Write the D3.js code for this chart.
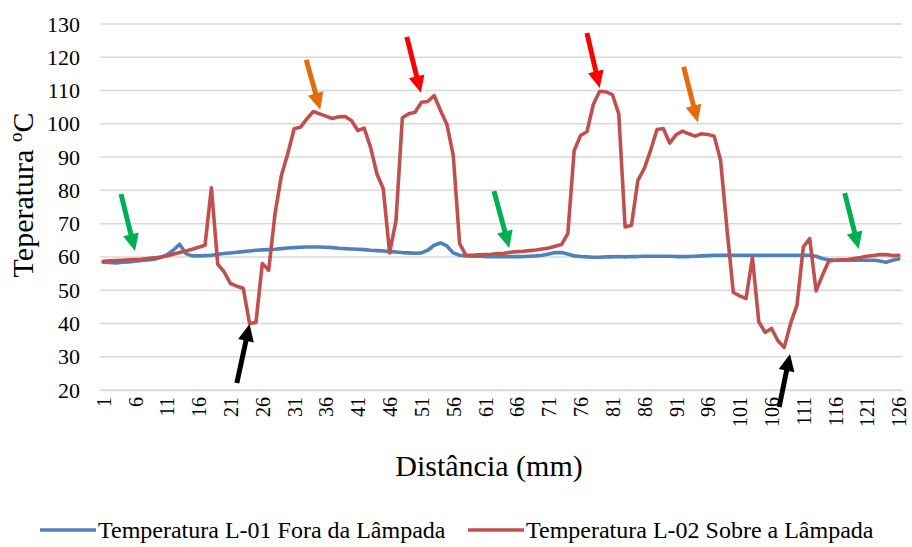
<!DOCTYPE html>
<html>
<head>
<meta charset="utf-8">
<script src="https://cdn.jsdelivr.net/npm/d3@7"></script>
<style>
  html, body { margin: 0; padding: 0; background: #fff; }
  svg { display: block; font-family: "Liberation Serif", "Times New Roman", serif; }
</style>
</head>
<body>
<svg id="chart" width="912" height="547"></svg>
<script>
// Distance along the lamp, in mm (1 … 126)
const distances = d3.range(1, 127);

// Temperature L-01, sensor outside the lamp (°C)
const tempFora = [
  58.4, 58.3, 58.2, 58.4, 58.5, 58.7, 58.9, 59.1, 59.3, 59.8,
  60.6, 62.0, 63.8, 61.0, 60.3, 60.3, 60.4, 60.5, 60.8, 61.0,
  61.2, 61.4, 61.6, 61.8, 62.0, 62.1, 62.2, 62.3, 62.5, 62.7,
  62.8, 62.9, 63.0, 63.0, 63.0, 62.9, 62.8, 62.6, 62.5, 62.4,
  62.3, 62.2, 62.0, 61.9, 61.8, 61.6, 61.5, 61.3, 61.2, 61.1,
  61.2, 62.0, 63.5, 64.2, 63.3, 61.2, 60.5, 60.3, 60.2, 60.2,
  60.1, 60.1, 60.1, 60.1, 60.1, 60.1, 60.1, 60.2, 60.3, 60.5,
  60.9, 61.3, 61.3, 60.9, 60.3, 60.1, 60.0, 59.9, 59.9, 60.0,
  60.0, 60.1, 60.0, 60.1, 60.1, 60.2, 60.2, 60.2, 60.2, 60.2,
  60.1, 60.1, 60.1, 60.2, 60.3, 60.4, 60.5, 60.5, 60.5, 60.5,
  60.5, 60.5, 60.5, 60.5, 60.5, 60.5, 60.5, 60.5, 60.5, 60.5,
  60.5, 60.5, 60.2, 59.5, 59.1, 59.0, 59.0, 59.0, 59.0, 59.0,
  59.0, 59.0, 58.8, 58.4, 59.0, 59.4
];

// Temperature L-02, sensor on the lamp (°C)
const tempSobre = [
  58.7, 58.8, 58.9, 59.0, 59.1, 59.2, 59.3, 59.5, 59.7, 60.0,
  60.3, 60.8, 61.3, 61.8, 62.3, 62.9, 63.5, 80.8, 57.8, 55.5,
  52.0, 51.2, 50.6, 40.0, 40.3, 58.0, 56.0, 73.0, 84.5, 91.0,
  98.5, 99.0, 101.5, 103.7, 103.0, 102.3, 101.6, 102.1, 102.2, 101.0,
  98.0, 98.7, 93.0, 85.0, 80.5, 61.2, 70.8, 101.8, 103.0, 103.5,
  106.5, 106.7, 108.5, 104.0, 99.8, 90.5, 64.0, 60.5, 60.5, 60.6,
  60.7, 60.8, 61.0, 61.1, 61.4, 61.6, 61.7, 61.9, 62.1, 62.4,
  62.7, 63.2, 63.7, 67.0, 92.0, 96.5, 97.6, 105.8, 109.8, 109.6,
  108.8, 103.0, 69.0, 69.5, 83.0, 86.5, 92.0, 98.3, 98.6, 94.2,
  96.7, 97.8, 97.0, 96.3, 97.0, 96.8, 96.3, 89.0, 68.5, 49.3,
  48.3, 47.5, 59.8, 40.5, 37.3, 38.5, 34.8, 32.8, 40.0, 45.5,
  63.0, 65.5, 49.8, 54.5, 58.8, 59.0, 59.1, 59.2, 59.5, 59.8,
  60.2, 60.4, 60.7, 60.7, 60.4, 60.5
];

const yTicks = [20, 30, 40, 50, 60, 70, 80, 90, 100, 110, 120, 130];
const xTickLabels = distances.filter(d => (d - 1) % 5 === 0);

const seriesNames = [
  "Temperatura L-01 Fora da Lâmpada",
  "Temperatura L-02 Sobre a Lâmpada"
];
const seriesColors = ["#4F81BD", "#C0504D"];

// Annotation arrows: tail (distance, temperature) -> tip (distance, temperature)
const arrowColors = ["#00B050", "#000000", "#E46C0A", "#FF0000", "#00B050", "#FF0000", "#E46C0A", "#000000", "#00B050"];
const arrowTailX = [3.8, 22.0, 32.9, 48.7, 62.4, 77.0, 92.2, 107.2, 117.5];
const arrowTailY = [78.9, 22.1, 119.2, 126.1, 79.8, 127.3, 117.1, 14.9, 79.2];
const arrowTipX  = [6.0, 24.0, 35.1, 50.9, 64.8, 79.0, 94.4, 108.9, 119.7];
const arrowTipY  = [61.8, 39.8, 104.2, 109.3, 62.7, 110.8, 100.5, 30.8, 62.4];

const svg = d3.select("#chart");
const W = 912, H = 547;
const margin = { top: 24, right: 10, bottom: 157, left: 100 };
const innerW = W - margin.left - margin.right;
const innerH = H - margin.top - margin.bottom;

const g = svg.append("g").attr("transform", `translate(${margin.left},${margin.top})`);

const x = d3.scalePoint().domain(distances).range([0, innerW]).padding(0.5);
const y = d3.scaleLinear().domain([20, 130]).range([innerH, 0]);
const xc = v => x(1) + (v - 1) * x.step();

// Horizontal gridlines
g.append("g")
  .selectAll("line")
  .data(yTicks)
  .join("line")
  .attr("x1", 0).attr("x2", innerW)
  .attr("y1", d => y(d)).attr("y2", d => y(d))
  .attr("stroke", "#D9D9D9")
  .attr("stroke-width", 1.5);

// Y axis labels
const yAxis = g.append("g")
  .call(d3.axisLeft(y).tickValues(yTicks).tickSize(0).tickPadding(20));
yAxis.select(".domain").remove();
yAxis.selectAll("text")
  .attr("font-family", "Liberation Serif, serif")
  .attr("font-size", 22)
  .attr("fill", "#000");

// X axis with rotated labels
const xAxis = g.append("g")
  .attr("transform", `translate(0,${innerH})`)
  .call(d3.axisBottom(x).tickValues(xTickLabels).tickSize(0));
xAxis.select(".domain").attr("stroke", "#D9D9D9").attr("stroke-width", 1.5);
xAxis.selectAll("text")
  .attr("font-family", "Liberation Serif, serif")
  .attr("font-size", 20)
  .attr("fill", "#000")
  .attr("transform", "rotate(-90)")
  .attr("text-anchor", "end")
  .attr("dy", "0.35em")
  .attr("x", -7)
  .attr("y", 0);

// Series lines
const line = d3.line()
  .x((d, i) => x(distances[i]))
  .y(d => y(d));

[tempFora, tempSobre].forEach((s, k) => {
  g.append("path")
    .datum(s)
    .attr("fill", "none")
    .attr("stroke", seriesColors[k])
    .attr("stroke-width", 3.6)
    .attr("stroke-linejoin", "round")
    .attr("stroke-linecap", "round")
    .attr("d", line);
});

// Arrows
const arrows = arrowColors.map((c, i) => ({
  c,
  x1: xc(arrowTailX[i]), y1: y(arrowTailY[i]),
  x2: xc(arrowTipX[i]), y2: y(arrowTipY[i])
}));
const arrowG = g.append("g");
arrows.forEach(a => {
  const dx = a.x2 - a.x1, dy = a.y2 - a.y1;
  const len = Math.hypot(dx, dy);
  const ux = dx / len, uy = dy / len;
  const headL = 17, headW = 8;
  const bx = a.x2 - ux * headL, by = a.y2 - uy * headL;
  arrowG.append("line")
    .attr("x1", a.x1).attr("y1", a.y1)
    .attr("x2", bx + ux * 2).attr("y2", by + uy * 2)
    .attr("stroke", a.c).attr("stroke-width", 5);
  arrowG.append("polygon")
    .attr("points", [
      [a.x2, a.y2],
      [bx - uy * headW, by + ux * headW],
      [bx + uy * headW, by - ux * headW]
    ].map(p => p.join(",")).join(" "))
    .attr("fill", a.c);
});

// Axis titles
const yTitle = svg.append("text")
  .attr("transform", `translate(33,${margin.top + innerH / 2 - 12}) rotate(-90)`)
  .attr("text-anchor", "middle")
  .attr("font-size", 30)
  .attr("fill", "#000");
yTitle.append("tspan").text("Teperatura ");
yTitle.append("tspan").attr("font-size", 19).attr("dy", -11).text("o");
yTitle.append("tspan").attr("dy", 11).text("C");

svg.append("text")
  .attr("x", margin.left + innerW / 2 - 12)
  .attr("y", 476)
  .attr("text-anchor", "middle")
  .attr("font-size", 30)
  .attr("fill", "#000")
  .text("Distância (mm)");

// Legend
const legendX = [40, 468];
const legend = svg.append("g");
seriesNames.forEach((name, k) => {
  legend.append("line")
    .attr("x1", legendX[k]).attr("x2", legendX[k] + 56)
    .attr("y1", 530).attr("y2", 530)
    .attr("stroke", seriesColors[k])
    .attr("stroke-width", 3.6);
  legend.append("text")
    .attr("x", legendX[k] + 58)
    .attr("y", 538)
    .attr("font-size", 24)
    .attr("fill", "#000")
    .text(name);
});
</script>
</body>
</html>
